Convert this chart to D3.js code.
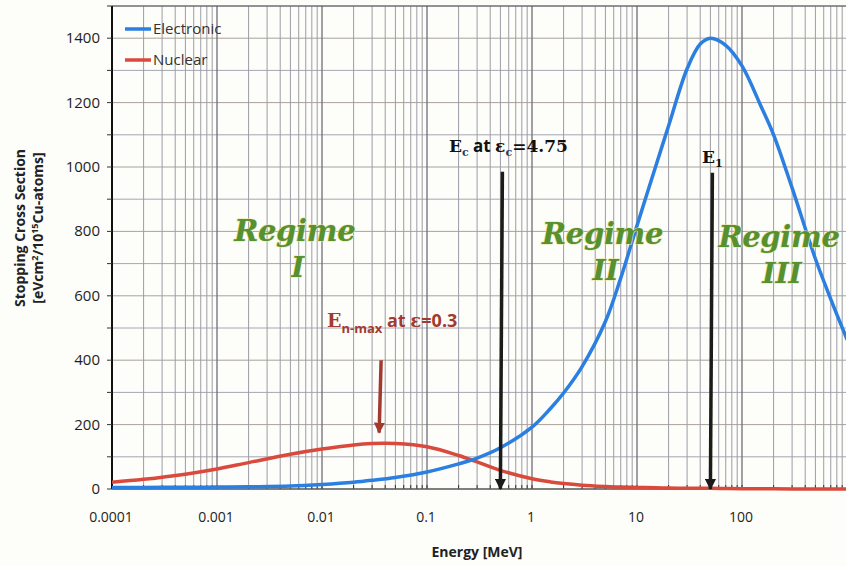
<!DOCTYPE html>
<html>
<head>
<meta charset="utf-8">
<script src="https://cdn.jsdelivr.net/npm/d3@7"></script>
<style>
body{margin:0;background:#fdfdf9;}
svg{display:block;font-family:"Open Sans",sans-serif;}
</style>
</head>
<body>
<svg id="chart" width="846" height="566"></svg>
<script>
//data------------------------------------------------
var energy=[0.0001,0.0002,0.0005,0.001,0.002,0.005,0.01,0.02,0.03,0.05,0.1,0.2,0.3,0.5,1,1.5,2,3,5,7,10,15,20,30,40,50,70,100,150,200,300,500,700,1000];
var electronic=[5,5,5.5,6,7,9,14,21,27,36,53,78,96,128,192,250,298,380,520,655,818,1000,1128,1305,1382,1400,1378,1314,1192,1100,935,715,590,465];
var nuclear=[21,30,46,62,82,108,124,137,141,141,131,104,84,58,32,22,17,12,8,6,5,4,3,2.5,2,2,1.5,1,1,0.5,0,0,0,0];
var xTicks=[0.0001,0.001,0.01,0.1,1,10,100];
var yTicks=[0,200,400,600,800,1000,1200,1400];
var series=[{name:'Electronic',values:electronic,color:'#2b7fe0'},{name:'Nuclear',values:nuclear,color:'#da4a3c'}];
var E_c=0.5, E_1=50, E_nmax=0.035;

var svg=d3.select('#chart');
var x=d3.scaleLog().domain([1e-4,1e3]).range([112,847]);
var y=d3.scaleLinear().domain([0,1500]).range([489,6]);

//grid
var minor=[];
for(var d=-4;d<3;d++){
  for(var k=1;k<10;k++){minor.push(k*Math.pow(10,d));}
}
minor.push(1000);
var majors=xTicks.concat([1000]);
var grid=svg.append('g');
grid.selectAll('.hg').data(d3.range(100,1501,100)).enter().append('line')
  .attr('x1',x.range()[0]).attr('x2',846)
  .attr('y1',d=>y(d)).attr('y2',d=>y(d))
  .attr('stroke',d=>d%200==0?'#a9a39a':'#a6a6b4').attr('stroke-width',1);
grid.selectAll('.vg').data(minor).enter().append('line')
  .attr('x1',d=>x(d)).attr('x2',d=>x(d))
  .attr('y1',y(1500)).attr('y2',y(0))
  .attr('stroke',d=>majors.indexOf(d)>=0?'#6e6e78':'#9c9ca8')
  .attr('stroke-width',d=>majors.indexOf(d)>=0?1.3:1);

//small inward ticks on the energy axis
svg.append('g').selectAll('line').data(minor).enter().append('line')
  .attr('x1',d=>x(d)).attr('x2',d=>x(d))
  .attr('y1',y(0)).attr('y2',y(0)-4)
  .attr('stroke','#333').attr('stroke-width',1);

//axes
svg.append('line').attr('x1',x.range()[0]).attr('x2',846).attr('y1',y(1500)).attr('y2',y(1500))
  .attr('stroke','#555').attr('stroke-width',1.2);
svg.append('line').attr('x1',x.range()[0]).attr('x2',846).attr('y1',y(0)).attr('y2',y(0))
  .attr('stroke','#555').attr('stroke-width',1.5);
svg.append('line').attr('x1',x.range()[0]).attr('x2',x.range()[0]).attr('y1',y(1500)).attr('y2',y(0))
  .attr('stroke','#111').attr('stroke-width',2);
svg.append('g').selectAll('line').data(d3.range(0,1501,100)).enter().append('line')
  .attr('x1',x.range()[0]-5).attr('x2',x.range()[0])
  .attr('y1',d=>y(d)).attr('y2',d=>y(d))
  .attr('stroke','#333');

svg.append('g').selectAll('text').data(yTicks).enter().append('text')
  .attr('x',100).attr('y',d=>y(d)+5)
  .attr('text-anchor','end').attr('font-size',15).attr('fill','#1e1e1e')
  .text(d=>d);
svg.append('g').selectAll('text').data(xTicks).enter().append('text')
  .attr('x',d=>x(d)-1).attr('y',522)
  .attr('text-anchor','middle').attr('font-size',14).attr('fill','#1e1e1e')
  .text(d=>d>=1?d:d.toFixed(Math.round(-Math.log10(d))));

svg.append('text').attr('x',477).attr('y',557).attr('text-anchor','middle')
  .attr('font-size',14).attr('font-weight','bold').attr('fill','#222').text('Energy [MeV]');
var yt=svg.append('text').attr('transform','translate(25,228) rotate(-90)')
  .attr('text-anchor','middle').attr('font-size',14).attr('font-weight','bold').attr('fill','#222');
yt.append('tspan').attr('x',0).attr('dy',0).text('Stopping Cross Section');
yt.append('tspan').attr('x',0).attr('dy',18).text('[eVcm');
yt.append('tspan').attr('font-size',9).attr('dy',-5).text('2');
yt.append('tspan').attr('dy',5).text('/10');
yt.append('tspan').attr('font-size',9).attr('dy',-5).text('15');
yt.append('tspan').attr('dy',5).text('Cu-atoms]');

//curves
var line=d3.line().x((d,i)=>x(energy[i])).y(d=>y(d)).curve(d3.curveCatmullRom.alpha(0.5));
svg.append('defs').append('clipPath').attr('id','clip').append('rect')
  .attr('x',x.range()[0]).attr('y',0).attr('width',846-x.range()[0]).attr('height',y(0)+3);
svg.append('g').attr('clip-path','url(#clip)').selectAll('path').data(series.slice().reverse()).enter().append('path')
  .attr('d',d=>line(d.values))
  .attr('fill','none').attr('stroke',d=>d.color).attr('stroke-width',3.5).attr('stroke-linecap','round');

//legend
var leg=svg.append('g').selectAll('g').data(series).enter().append('g')
  .attr('transform',(d,i)=>'translate(125,'+(29+i*31)+')');
leg.append('line').attr('x1',0).attr('x2',26).attr('stroke',d=>d.color).attr('stroke-width',3.5);
leg.append('text').attr('x',28).attr('y',5).attr('font-size',15).attr('fill','#333').text(d=>d.name);

//regime labels
var regimes=[{e:0.0055,t:'I'},{e:4.7,t:'II'},{e:225,t:'III'}];
var reg=svg.append('g').selectAll('g').data(regimes).enter().append('g')
  .attr('font-family','"DejaVu Serif",serif').attr('font-style','italic').attr('font-weight','bold')
  .attr('text-anchor','middle').attr('fill','#56902f')
  .attr('stroke','#e6e4a6').attr('stroke-width',1.2).attr('paint-order','stroke');
reg.append('text').attr('x',d=>x(d.e)).attr('y',(d,i)=>241+i*3).attr('font-size',29).attr('letter-spacing',-0.3).text('Regime');
reg.append('text').attr('x',d=>x(d.e)+3).attr('y',(d,i)=>277+i*3).attr('font-size',28).text(d=>d.t);

//arrows
var defs=svg.select('defs');
function marker(id,col){
  defs.append('marker').attr('id',id).attr('viewBox','0 0 10 10').attr('refX',9).attr('refY',5)
    .attr('markerWidth',3.2).attr('markerHeight',3.2).attr('orient','auto')
    .append('path').attr('d','M0,0L10,5L0,10z').attr('fill',col);
}
marker('ablack','#1b1b1b');
marker('ared','#a23a30');
var arrows=[{e:E_c,from:985,to:0,col:'#1b1b1b',m:'ablack'},{e:E_1,from:982,to:0,col:'#1b1b1b',m:'ablack'},{e:E_nmax,from:400,to:175,col:'#a23a30',m:'ared'}];
svg.append('g').selectAll('line').data(arrows).enter().append('line')
  .attr('x1',d=>x(d.e)+2).attr('x2',d=>x(d.e)).attr('y1',d=>y(d.from)).attr('y2',d=>y(d.to))
  .attr('stroke',d=>d.col).attr('stroke-width',3.5).attr('marker-end',d=>'url(#'+d.m+')');

//annotation texts
var t1=svg.append('text').attr('x',x(E_c)+8).attr('y',152).attr('text-anchor','middle')
  .attr('font-family','"DejaVu Serif",serif').attr('font-weight','bold').attr('font-size',17).attr('fill','#111');
t1.append('tspan').text('E');
t1.append('tspan').attr('font-size',11).attr('dy',4).attr('fill','#1f3d70').text('c');
t1.append('tspan').attr('dy',-4).attr('font-family','"Open Sans",sans-serif').text(' at ');
t1.append('tspan').text('ε');
t1.append('tspan').attr('font-size',11).attr('dy',4).attr('fill','#1f3d70').text('c');
t1.append('tspan').attr('dy',-4).text('=4.75');

var t2=svg.append('text').attr('x',x(E_1)+2).attr('y',163).attr('text-anchor','middle')
  .attr('font-family','"DejaVu Serif",serif').attr('font-weight','bold').attr('font-size',17).attr('fill','#111');
t2.append('tspan').text('E');
t2.append('tspan').attr('font-size',11).attr('dy',4).text('1');

var t3=svg.append('text').attr('x',x(E_nmax)+13).attr('y',327).attr('text-anchor','middle')
  .attr('font-weight','bold').attr('font-size',18).attr('fill','#a23a30');
t3.append('tspan').attr('font-family','"DejaVu Serif",serif').attr('font-size',19).text('E');
t3.append('tspan').attr('font-size',13).attr('dy',6).text('n-max');
t3.append('tspan').attr('dy',-6).text(' at ');
t3.append('tspan').attr('font-family','"DejaVu Serif",serif').text('ε');
t3.append('tspan').text('=0.3');
</script>
</body>
</html>
